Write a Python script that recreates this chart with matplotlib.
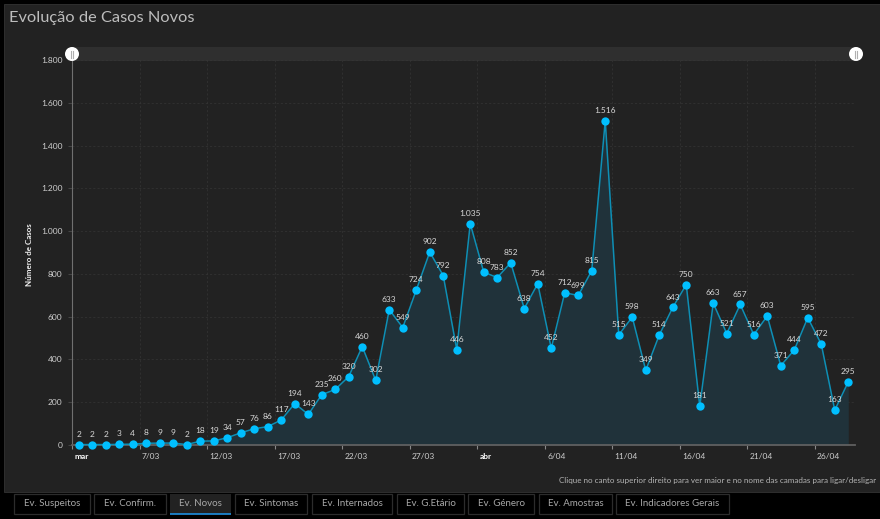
import matplotlib
matplotlib.use('Agg')
import matplotlib.pyplot as plt
from matplotlib.patches import Rectangle, Circle
from matplotlib.transforms import ScaledTranslation

plt.rcParams['font.family'] = ['Lato', 'DejaVu Sans']

casos = [2, 2, 2, 3, 4, 8, 9, 9, 2, 18, 19, 34, 57, 76, 86, 117, 194, 143, 235, 260,
         320, 460, 302, 633, 549, 724, 902, 792, 446, 1035, 808, 783, 852, 638, 754,
         452, 712, 699, 815, 1516, 515, 598, 349, 514, 643, 750, 181, 663, 521, 657,
         516, 603, 371, 444, 595, 472, 163, 295]
dias = list(range(len(casos)))
y_ticks = [0, 200, 400, 600, 800, 1000, 1200, 1400, 1600, 1800]
x_ticks = [-0.5, 4.5, 9.5, 14.5, 19.5, 24.5, 29.5, 34.5, 39.5, 44.5, 49.5, 54.5]
x_labels = ['mar', '7/03', '12/03', '17/03', '22/03', '27/03', 'abr', '6/04',
            '11/04', '16/04', '21/04', '26/04']
tabs = ['Ev. Suspeitos', 'Ev. Confirm.', 'Ev. Novos', 'Ev. Sintomas', 'Ev. Internados',
        'Ev. G.Etário', 'Ev. Género', 'Ev. Amostras', 'Ev. Indicadores Gerais']
tab_edges = [(14, 90), (94, 166), (170, 231), (235, 307), (312, 392), (397, 464),
             (468, 534), (539, 612), (616, 729)]

W, H = 880, 519


def fmt(v):
    return ('%d' % v) if v < 1000 else ('%d.%03d' % (v // 1000, v % 1000))


fig = plt.figure(figsize=(W / 100, H / 100), dpi=100, facecolor='#000000')

# page chrome in pixel coordinates
bg = fig.add_axes([0, 0, 1, 1])
bg.set_xlim(0, W)
bg.set_ylim(H, 0)
bg.axis('off')
bg.add_patch(Rectangle((4, 4), W - 4, 488, fc='#222222', ec='#333333', lw=0.6))
bg.add_patch(Rectangle((72, 47), 784, 14, fc='#2f2f2f', ec='none'))
bg.text(9, 18, 'Evolução de Casos Novos', color='#bdbdbd', fontsize=11.8,
        fontweight='normal', va='center')
bg.text(30, 255, 'Número de Casos', color='#f0f0f0', fontsize=5.8, rotation=90,
        va='center', ha='center', fontweight='bold')
bg.text(876, 481, 'Clique no canto superior direito para ver maior e no nome das camadas para ligar/desligar',
        color='#b4b4b4', fontsize=5.75, ha='right', va='center')

for name, (x0, x1) in zip(tabs, tab_edges):
    active = name == 'Ev. Novos'
    bg.add_patch(Rectangle((x0, 494), x1 - x0, 20, fc='#222222' if active else '#000000',
                           ec='none' if active else '#2c2c2c', lw=0.9))
    bg.text((x0 + x1) / 2, 503.5, name, color='#a8a8a8', fontsize=7, ha='center',
            va='center')
    if active:
        bg.plot([x0, x1], [513.5, 513.5], color='#1e90e0', lw=1.2, solid_capstyle='butt')

# chart
ax = fig.add_axes([72 / W, 1 - 445 / H, 783 / W, 385 / H], facecolor='none')
ax.set_xlim(-0.5, 57.5)
ax.set_ylim(0, 1800)
ax.fill_between(dias, casos, color='#20323a', lw=0, zorder=1)
ax.plot(dias, casos, color='#0e8fb5', lw=1.1, marker='o', ms=6, mfc='#00bfff',
        mec='#00bfff', mew=0, zorder=3, clip_on=False)
for d, v in zip(dias, casos):
    ax.annotate(fmt(v), (d, v), xytext=(0, 5), textcoords='offset points', ha='center',
                va='bottom', color='#d8d8d8', fontsize=6, zorder=4)

ax.set_yticks(y_ticks)
ax.set_yticklabels([fmt(v) for v in y_ticks], color='#cfcfcf', fontsize=6)
ax.set_xticks(x_ticks)
ax.set_xticklabels(x_labels, color='#cfcfcf', fontsize=6, ha='left')
ax.tick_params(axis='y', length=3, width=0.8, color='#444444', pad=4)
ax.tick_params(axis='x', length=3, width=0.8, color='#888888', pad=3)
# labels sit just right of their tick, has to come after tick_params
shift = ScaledTranslation(2.5 / 100, 0, fig.dpi_scale_trans)
for lab, txt in zip(ax.get_xticklabels(), x_labels):
    lab.set_transform(lab.get_transform() + shift)
    if txt in ('mar', 'abr'):
        lab.set_color('#ffffff')
        lab.set_fontweight('bold')
ax.grid(True, color='#363636', lw=0.5, ls=(0, (3, 3)), zorder=0)
ax.set_axisbelow(True)
for s in ['top', 'right']:
    ax.spines[s].set_visible(False)
ax.spines['left'].set_color('#707070')
ax.spines['left'].set_linewidth(0.8)
ax.spines['bottom'].set_color('#606060')
ax.spines['bottom'].set_linewidth(1.3)
bg.plot([72, 72], [53, 60], color='#707070', lw=0.8)

# slider handles on top of everything
top = fig.add_axes([0, 0, 1, 1], facecolor='none')
top.set_xlim(0, W)
top.set_ylim(H, 0)
top.axis('off')
for hx in (72, 856):
    top.add_patch(Circle((hx, 54), 7, fc='#ffffff', ec='none'))
    top.plot([hx - 1.3, hx - 1.3], [50.5, 57.5], color='#b0b0b0', lw=0.8)
    top.plot([hx + 1.3, hx + 1.3], [50.5, 57.5], color='#b0b0b0', lw=0.8)

fig.savefig('out.png', dpi=100, facecolor=fig.get_facecolor())
